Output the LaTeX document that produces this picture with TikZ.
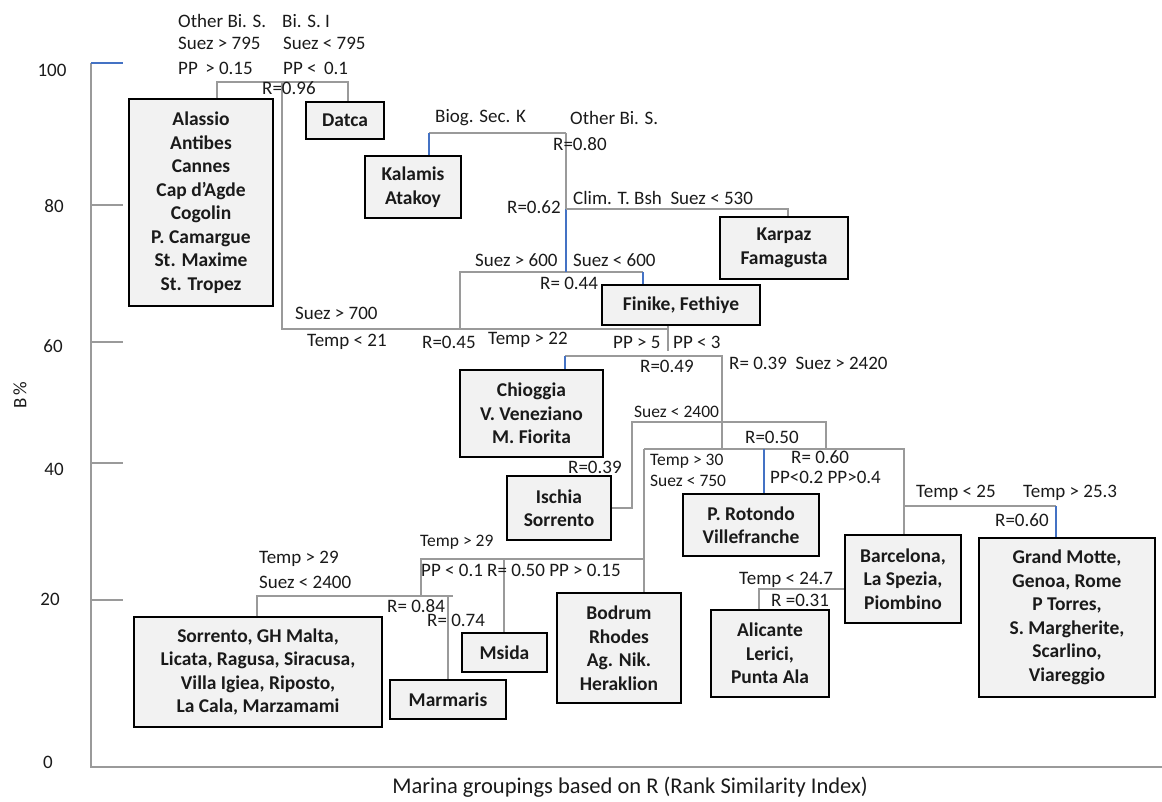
\documentclass[tikz,border=0pt]{standalone}
\usepackage{fontspec}
\setmainfont{Carlito}
\definecolor{lg}{HTML}{9A9A9A}
\definecolor{lb}{HTML}{4472C4}
\definecolor{bf}{HTML}{F2F2F2}
\definecolor{tx}{HTML}{1A1A1A}
\begin{document}
\begin{tikzpicture}[x=1pt,y=-1pt,
 box/.style={draw=black, line width=1.4pt, fill=bf, inner sep=0pt, align=center, text=tx, font=\fontsize{19.5}{23.5}\selectfont\bfseries},
 lab/.style={anchor=west, inner sep=0pt, text=tx, font=\fontsize{19}{22}\selectfont},
 slab/.style={lab, font=\fontsize{17.5}{20}\selectfont},
 tick/.style={anchor=center, inner sep=0pt, text=tx, font=\fontsize{19}{22}\selectfont},
 gl/.style={draw=lg, line width=1.5pt},
 bl/.style={draw=lb, line width=1.5pt},
]
\useasboundingbox (0,0) rectangle (1162,801);

% ---------- axis ----------
\coordinate (ax0) at (91,767);
\coordinate (ax100) at (91,63);
\coordinate (axR) at (1162,767);
\coordinate (t80) at (91,205);
\coordinate (t60) at (91,342);
\coordinate (t40) at (91,463);
\coordinate (t20) at (91,600);
\draw[gl] (ax100) -- (ax0) -- (axR);
\draw[bl] (ax100) -- ++(32,0);
\foreach \t in {t80,t60,t40,t20} \draw[gl] (\t) -- ++(32,0);
\node[tick] (l100) at (52,70) {100};
\node[tick] (l80) at (54,206) {80};
\node[tick] (l60) at (53,346) {60};
\node[tick] (l40) at (54,469) {40};
\node[tick] (l20) at (50,599) {20};
\node[tick] (l0) at (48,762) {0};
\node[tick, rotate=90] (ylab) at (20,395) {B\,\%};
\node[tick, font=\fontsize{22.5}{26}\selectfont] (xlab) at (630,787) {Marina groupings based on R (Rank Similarity Index)};

% ---------- boxes ----------
\node[box, minimum width=144pt, minimum height=207pt] (alassio) at (201,202.5) {Alassio\\Antibes\\Cannes\\Cap d’Agde\\Cogolin\\P. Camargue\\St. Maxime\\St. Tropez};
\node[box, minimum width=78pt, minimum height=37pt] (datca) at (345,120.5) {Datca};
\node[box, minimum width=96pt, minimum height=62pt] (kalamis) at (413,187) {Kalamis\\Atakoy};
\node[box, minimum width=128pt, minimum height=62pt] (karpaz) at (784,248) {Karpaz\\Famagusta};
\node[box, minimum width=158pt, minimum height=40pt] (finike) at (681,305) {Finike, Fethiye};
\node[box, minimum width=143pt, minimum height=87pt] (chioggia) at (531.5,413.5) {Chioggia\\V. Veneziano\\M. Fiorita};
\node[box, minimum width=104pt, minimum height=64pt] (ischia) at (559,508) {Ischia\\Sorrento};
\node[box, minimum width=136pt, minimum height=62pt] (rotondo) at (751,525) {P. Rotondo\\Villefranche};
\node[box, minimum width=116pt, minimum height=88pt] (barcelona) at (903,579) {Barcelona,\\La Spezia,\\Piombino};
\node[box, minimum width=176pt, minimum height=159pt] (grand) at (1067,617.5) {Grand Motte,\\Genoa, Rome\\P Torres,\\S. Margherite,\\Scarlino,\\Viareggio};
\node[box, minimum width=118pt, minimum height=87pt] (alicante) at (770,653.5) {Alicante\\Lerici,\\Punta Ala};
\node[box, minimum width=124pt, minimum height=110pt] (bodrum) at (619,648) {Bodrum\\Rhodes\\Ag. Nik.\\Heraklion};
\node[box, minimum width=85pt, minimum height=39pt] (msida) at (504.5,652.5) {Msida};
\node[box, minimum width=116pt, minimum height=39pt] (marmaris) at (448,699.5) {Marmaris};
\node[box, minimum width=248pt, minimum height=110pt] (sorrento) at (258,672) {Sorrento, GH Malta,\\Licata, Ragusa, Siracusa,\\Villa Igiea, Riposto,\\La Cala, Marzamami};

% ---------- junction coordinates ----------
\coordinate (c96L) at (217,82);
\coordinate (c96R) at (348,82);
\coordinate (c96) at (282,82);
\coordinate (c45L) at (282,329);
\coordinate (c45R) at (668,329);
\coordinate (c45) at (460,329);
\coordinate (c44L) at (460,272);
\coordinate (c44R) at (643,272);
\coordinate (c80L) at (429,133);
\coordinate (c80) at (566,133);
\coordinate (c62) at (566,209);
\coordinate (c44) at (566,272);
\coordinate (c62R) at (788,209);
\coordinate (c49T) at (668,351);
\coordinate (c49L) at (565,356);
\coordinate (c49R) at (722,356);
\coordinate (c39) at (722,449);
\coordinate (c50L) at (644,449);
\coordinate (c50R) at (904,449);
\coordinate (c50B) at (764,449);
\coordinate (cS24L) at (632,422);
\coordinate (cS24R) at (826,422);
\coordinate (cT29L) at (421,559);
\coordinate (cT29R) at (644,559);
\coordinate (cMs) at (504,559);
\coordinate (c84M) at (421,596);
\coordinate (c84L) at (257,596);
\coordinate (c84R) at (453,596);
\coordinate (cMa) at (448,596);
\coordinate (c60L) at (904,506);
\coordinate (c60R) at (1056,506);
\coordinate (c31L) at (759,589);

% ---------- connectors ----------
\draw[gl] (c96L |- alassio.north) -- (c96L) -- (c96R) -- (c96R |- datca.north);
\draw[gl] (c96) -- (c45L) -- (c45R);
\draw[gl] (c45) -- (c44L) -- (c44R);
\draw[bl] (c44R) -- (c44R |- finike.north);
\draw[gl] (c80) -- (c80L);
\draw[bl] (c80L) -- (c80L |- kalamis.north);
\draw[gl] (c80) -- (c62);
\draw[bl] (c62) -- (c44);
\draw[gl] (c62) -- (c62R) -- (c62R |- karpaz.north);
\draw[gl] (c49T |- finike.south) -- (c49T);
\draw[gl] (c49L) -- (c49R) -- (c39);
\draw[bl] (c49L) -- (c49L |- chioggia.north);
\draw[gl] (c50L) -- (c50R) -- (c50R |- barcelona.north);
\draw[bl] (c50B) -- (c50B |- rotondo.north);
\draw[gl] (cS24R |- c50R) -- (cS24R) -- (cS24L) -- (cS24L |- ischia.east) -- (ischia.east);
\draw[gl] (c50L) -- (c50L |- bodrum.north);
\draw[gl] (cT29R) -- (cT29L) -- (c84M);
\draw[gl] (cMs) -- (cMs |- msida.north);
\draw[gl] (c84L |- sorrento.north) -- (c84L) -- (c84R);
\draw[gl] (cMa) -- (cMa |- marmaris.north);
\draw[gl] (c60L) -- (c60R);
\draw[bl] (c60R) -- (c60R |- grand.north);
\draw[gl] (c31L |- alicante.north) -- (c31L) -- (c31L -| barcelona.west);

% ---------- labels ----------
\node[lab] (a1) at (178,21) {Other Bi. S.};
\node[lab] (a2) at (282,21) {Bi. S. I};
\node[lab] (a3) at (178,43) {Suez > 795};
\node[lab] (a4) at (283,43) {Suez < 795};
\node[lab] (a5) at (178,68) {PP \,> 0.15};
\node[lab] (a6) at (283,68) {PP < \,0.1};
\node[lab] (a7) at (262,88) {R=0.96};
\node[lab] (b1) at (435,118) {Biog. Sec. K};
\node[lab] (b2) at (570,118) {Other Bi. S.};
\node[lab] (b3) at (553,144) {R=0.80};
\node[lab] (b4) at (507,207) {R=0.62};
\node[lab] (b5) at (573,198) {Clim. T. Bsh\ \ Suez < 530};
\node[lab] (b6) at (475,260) {Suez > 600};
\node[lab] (b7) at (573,260) {Suez < 600};
\node[lab] (b8) at (540,283) {R= 0.44};
\node[lab] (d1) at (295,313) {Suez > 700};
\node[lab] (d2) at (307,342) {Temp < 21};
\node[lab] (d3) at (422,342) {R=0.45};
\node[lab] (d4) at (488,340) {Temp > 22};
\node[lab] (d5) at (613,342) {PP > 5};
\node[lab] (d6) at (673,342) {PP < 3};
\node[lab] (d7) at (640,366) {R=0.49};
\node[lab] (d8) at (729,363) {R= 0.39\ \ Suez > 2420};
\node[slab] (e1) at (634,412) {Suez < 2400};
\node[lab] (e2) at (745,437) {R=0.50};
\node[slab] (e3) at (650,461) {Temp > 30};
\node[slab] (e4) at (650,481) {Suez < 750};
\node[lab] (e5) at (791,457) {R= 0.60};
\node[lab] (e6) at (770,477) {PP<0.2 PP>0.4};
\node[lab] (e7) at (916,493) {Temp < 25};
\node[lab] (e8) at (1023,493) {Temp > 25.3};
\node[lab] (e9) at (995,520) {R=0.60};
\node[lab] (e10) at (568,467) {R=0.39};
\node[slab] (f1) at (420,542) {Temp > 29};
\node[lab] (f2) at (421,570) {PP < 0.1 R= 0.50 PP > 0.15};
\node[lab] (f3) at (259,559) {Temp > 29};
\node[lab] (f4) at (259,582) {Suez < 2400};
\node[lab] (f5) at (387,606) {R= 0.84};
\node[lab] (f6) at (427,620) {R= 0.74};
\node[lab] (f7) at (739,580) {Temp < 24.7};
\node[lab] (f8) at (771,600) {R =0.31};
\end{tikzpicture}
\end{document}
